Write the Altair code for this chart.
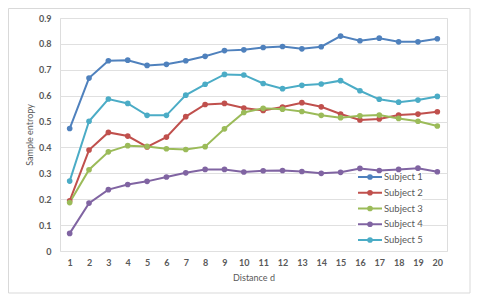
import altair as alt
import pandas as pd

distance = list(range(1, 21))
subjects = ["Subject 1", "Subject 2", "Subject 3", "Subject 4", "Subject 5"]
colors = ["#4F81BD", "#C0504D", "#9BBB59", "#8064A2", "#4BACC6"]

s1 = [0.473, 0.668, 0.735, 0.737, 0.717, 0.721, 0.735, 0.752, 0.774, 0.777,
      0.786, 0.790, 0.781, 0.789, 0.830, 0.812, 0.822, 0.808, 0.808, 0.820]
s2 = [0.194, 0.390, 0.458, 0.444, 0.402, 0.440, 0.519, 0.566, 0.570, 0.552,
      0.543, 0.556, 0.573, 0.557, 0.529, 0.506, 0.510, 0.525, 0.529, 0.538]
s3 = [0.187, 0.314, 0.383, 0.407, 0.404, 0.395, 0.392, 0.403, 0.472, 0.535,
      0.551, 0.548, 0.539, 0.524, 0.515, 0.522, 0.525, 0.512, 0.501, 0.483]
s4 = [0.068, 0.185, 0.237, 0.257, 0.269, 0.286, 0.302, 0.315, 0.315, 0.305,
      0.310, 0.311, 0.307, 0.300, 0.304, 0.319, 0.311, 0.315, 0.320, 0.306]
s5 = [0.270, 0.501, 0.587, 0.570, 0.524, 0.524, 0.602, 0.644, 0.682, 0.680,
      0.647, 0.627, 0.640, 0.645, 0.658, 0.619, 0.586, 0.575, 0.583, 0.597]
y_ticks = [0, 0.1, 0.2, 0.3, 0.4, 0.5, 0.6, 0.7, 0.8, 0.9]

series = [s1, s2, s3, s4, s5]
rows = []
for name, vals in zip(subjects, series):
    for d, v in zip(distance, vals):
        rows.append({"d": d, "value": v, "subject": name})
df = pd.DataFrame(rows)
legend_df = pd.DataFrame({"subject": subjects})

FONT = "Lato"
TXT = "#595959"
color_scale = alt.Scale(domain=subjects, range=colors)

border = alt.Chart(pd.DataFrame({"a": [0]})).mark_rect(
    fillOpacity=0, stroke="#d9d9d9", strokeWidth=1
).encode(x=alt.value(-51.5), x2=alt.value(410), y=alt.value(-9.5), y2=alt.value(275))

lines = alt.Chart(df).mark_line(
    strokeWidth=2, point=alt.OverlayMarkDef(filled=True, size=32, opacity=1)
).encode(
    x=alt.X("d:O", title="Distance d",
            scale=alt.Scale(padding=0.5),
            axis=alt.Axis(labelAngle=0, grid=False, domain=False, ticks=False,
                          labelFont=FONT, labelFontSize=9, labelFontWeight="bold",
                          labelColor=TXT, labelPadding=7,
                          titleFont=FONT, titleFontSize=9, titleFontWeight="normal",
                          titleColor=TXT, titlePadding=6)),
    y=alt.Y("value:Q", title="Sample entropy",
            scale=alt.Scale(domain=[0, 0.9], nice=False),
            axis=alt.Axis(values=y_ticks, domain=False, ticks=False,
                          labelExpr="datum.value == 0 ? '0' : format(datum.value, '.1f')",
                          labelFont=FONT, labelFontSize=9, labelFontWeight="bold",
                          labelColor=TXT, labelPadding=9,
                          grid=True, gridColor="#e0e0e0", gridWidth=1,
                          titleFont=FONT, titleFontSize=9, titleFontWeight="normal",
                          titleColor=TXT, titlePadding=4)),
    color=alt.Color("subject:N", scale=color_scale, legend=None),
)

leg_y = alt.Y("subject:N", axis=None,
              scale=alt.Scale(type="point", domain=subjects, range=[159, 222], padding=0))
leg_bg = alt.Chart(pd.DataFrame({"a": [0]})).mark_rect(fill="white").encode(
    x=alt.value(296), x2=alt.value(362), y=alt.value(151), y2=alt.value(230))
leg_rule = alt.Chart(legend_df).mark_rule(strokeWidth=2).encode(
    x=alt.value(298), x2=alt.value(322), y=leg_y,
    color=alt.Color("subject:N", scale=color_scale, legend=None))
leg_pt = alt.Chart(legend_df).mark_point(filled=True, size=32, opacity=1).encode(
    x=alt.value(310), y=leg_y,
    color=alt.Color("subject:N", scale=color_scale, legend=None))
leg_txt = alt.Chart(legend_df).mark_text(
    align="left", baseline="middle", font=FONT, fontSize=9.5, color=TXT, dx=1
).encode(x=alt.value(323), y=leg_y, text="subject:N")

chart = alt.layer(border, leg_bg, lines, leg_rule, leg_pt, leg_txt).resolve_scale(
    y="independent"
).properties(
    width=387, height=233,
    autosize=alt.AutoSizeParams(type="none"),
    padding={"left": 52, "top": 10, "right": 25, "bottom": 44},
).configure_view(stroke=None).configure(background="white")

chart.save("out.html", embed_options={"renderer": "svg", "actions": False})
